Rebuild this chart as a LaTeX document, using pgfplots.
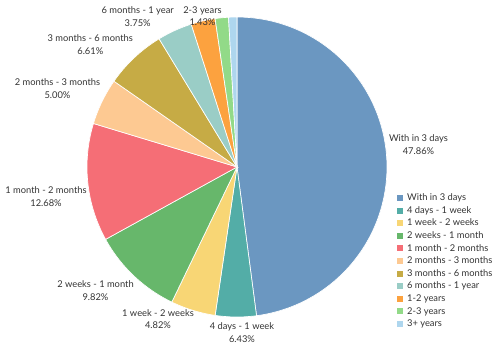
\documentclass[border=0pt]{standalone}
\usepackage{pgfplots}
\pgfplotsset{compat=1.18}
\usepackage{fontspec}
\setmainfont{Lato}
\definecolor{txt}{HTML}{333333}
\definecolor{c1}{HTML}{6B97C1}
\definecolor{c2}{HTML}{53ADA7}
\definecolor{c3}{HTML}{F8D675}
\definecolor{c4}{HTML}{67B76B}
\definecolor{c5}{HTML}{F56E76}
\definecolor{c6}{HTML}{FDC992}
\definecolor{c7}{HTML}{C6AB45}
\definecolor{c8}{HTML}{9ACDC6}
\definecolor{c9}{HTML}{FCA23F}
\definecolor{c10}{HTML}{92DA88}
\definecolor{c11}{HTML}{AED6EE}
\def\cum{0}
% 360 / 99.87 (sum of the slice values)
\def\k{3.604686}
\newcommand\slice[3]{%
  \pgfmathsetmacro\sa{90-\k*\cum}%
  \pgfmathsetmacro\newcum{\cum+#1}%
  \pgfmathsetmacro\sb{90-\k*\newcum}%
  \xdef\cum{\newcum}%
  \edef\doslice{\noexpand\addplot[fill=#2, draw=white, line width=0.5pt, data cs=polar, domain=\sb:\sa, samples=90] (x,1) -- (axis cs:0,0) -- cycle;}%
  \doslice
  \addlegendentry{#3}%
}
\begin{document}
\begin{tikzpicture}[font=\fontsize{7}{9.2}\selectfont, text=txt]
\begin{axis}[
  x=112.5pt, y=112.5pt,
  xmin=-1.58, xmax=1.75333, ymin=-1.22667, ymax=1.11333,
  hide axis, clip=false,
  legend cell align=left,
  legend image code/.code={\fill[#1, draw=none] (0pt,-2.2pt) rectangle (4.3pt,2.2pt);},
  legend style={draw=none, fill=none, at={(0.794,0.449)}, anchor=north west,
    inner sep=0pt, font=\fontsize{7}{8}\selectfont, text=txt,
    nodes={inner sep=0pt, text height=5.2pt, text depth=1.3pt},
    row sep=2.95pt, column sep=3.1pt},
]
\path (axis cs:-1.58,-1.22667) rectangle (axis cs:1.75333,1.11333);
\slice{47.86}{c1}{With in 3 days}
\slice{4.40}{c2}{4 days - 1 week}
\slice{4.82}{c3}{1 week - 2 weeks}
\slice{9.82}{c4}{2 weeks - 1 month}
\slice{12.68}{c5}{1 month - 2 months}
\slice{5.00}{c6}{2 months - 3 months}
\slice{6.61}{c7}{3 months - 6 months}
\slice{3.75}{c8}{6 months - 1 year}
\slice{2.60}{c9}{1-2 years}
\slice{1.43}{c10}{2-3 years}
\slice{0.90}{c11}{3+ years}
\node[align=center] at (axis cs:1.21,0.15) {With in 3 days\\47.86\%};
\node[align=center] at (axis cs:0.0333,-1.1033) {4 days - 1 week\\6.43\%};
\node[align=center] at (axis cs:-0.5267,-1.0133) {1 week - 2 weeks\\4.82\%};
\node[align=center] at (axis cs:-0.9433,-0.8233) {2 weeks - 1 month\\9.82\%};
\node[align=center] at (axis cs:-1.2733,-0.1967) {1 month - 2 months\\12.68\%};
\node[align=center] at (axis cs:-1.1967,0.5233) {2 months - 3 months\\5.00\%};
\node[align=center] at (axis cs:-0.978,0.8167) {3 months - 6 months\\6.61\%};
\node[align=center] at (axis cs:-0.662,1.002) {6 months - 1 year\\3.75\%};
\node[align=center] at (axis cs:-0.23,1.0033) {2-3 years\\1.43\%};
\end{axis}
\end{tikzpicture}
\end{document}
